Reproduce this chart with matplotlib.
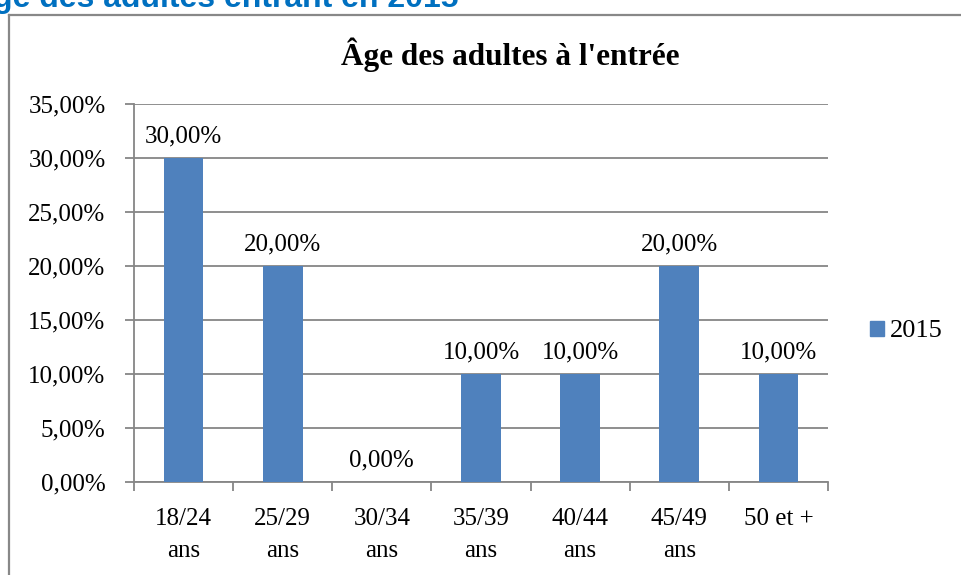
import matplotlib
matplotlib.use("Agg")
import matplotlib.pyplot as plt
from matplotlib.lines import Line2D
from matplotlib.patches import Rectangle

categories = ["18/24\nans", "25/29\nans", "30/34\nans", "35/39\nans", "40/44\nans", "45/49\nans", "50 et +"]
values = [30.0, 20.0, 0.0, 10.0, 10.0, 20.0, 10.0]
series_name = "2015"
yticks = [0, 5, 10, 15, 20, 25, 30, 35]

W, H = 961, 575
fig = plt.figure(figsize=(W / 100, H / 100), dpi=100)
serif = ["Liberation Serif", "DejaVu Serif"]
FS = 18

def fx(px):
    return px / W

def fy(py):
    return 1 - py / H

# chart frame (left + top visible)
fig.add_artist(Line2D([fx(9), fx(9)], [0, fy(15)], color="#888888", lw=1.6, transform=fig.transFigure))
fig.add_artist(Line2D([fx(9), 1], [fy(15), fy(15)], color="#888888", lw=1.6, transform=fig.transFigure))

# clipped heading at top
fig.text(fx(-30), fy(7), "Âge des adultes entrant en 2015", color="#0070C0", fontsize=23,
         fontweight="bold", family=["Liberation Sans", "DejaVu Sans"], ha="left", va="baseline")

ax = fig.add_axes([fx(134), fy(482), fx(828) - fx(134), fy(104) - fy(482)])
x = list(range(len(categories)))
bars = ax.bar(x, values, width=0.4, color="#4F81BD", label=series_name, zorder=3)
ax.set_xlim(-0.5, len(categories) - 0.5)
ax.set_ylim(0, 35)
ax.set_yticks(yticks)
ax.set_yticklabels([f"{v:.2f}".replace(".", ",") + "%" for v in yticks], family=serif, fontsize=FS)
ax.yaxis.grid(True, color="#868686", lw=1.3, zorder=0)
ax.set_xticks([i - 0.5 for i in range(len(categories) + 1)])
ax.set_xticklabels([])
ax.set_xticks(x, minor=True)
ax.set_xticklabels(categories, minor=True, family=serif, fontsize=FS, linespacing=1.55)
ax.tick_params(axis="x", which="minor", length=0, pad=19)
ax.tick_params(axis="x", which="major", length=6.5, color="#868686", width=1.3)
ax.tick_params(axis="y", length=6.5, color="#868686", width=1.3, pad=14)
for s in ["top", "right"]:
    ax.spines[s].set_visible(False)
for s in ["left", "bottom"]:
    ax.spines[s].set_color("#868686")
    ax.spines[s].set_linewidth(1.3)

for i, v in enumerate(values):
    ax.annotate(f"{v:.2f}".replace(".", ",") + "%", (i, v), xytext=(0, 11.5), textcoords="offset points",
                ha="center", va="baseline", family=serif, fontsize=FS)

fig.text(fx(510), fy(65), "Âge des adultes à l'entrée", ha="center", va="baseline",
         family=serif, fontsize=22.5, fontweight="bold")

# legend
fig.add_artist(Rectangle((fx(870), fy(336)), fx(14), fy(321) - fy(336), color="#4F81BD",
                         transform=fig.transFigure))
fig.text(fx(890), fy(337), series_name, ha="left", va="baseline", family=serif, fontsize=FS + 1)

fig.savefig("out.png", dpi=100)
